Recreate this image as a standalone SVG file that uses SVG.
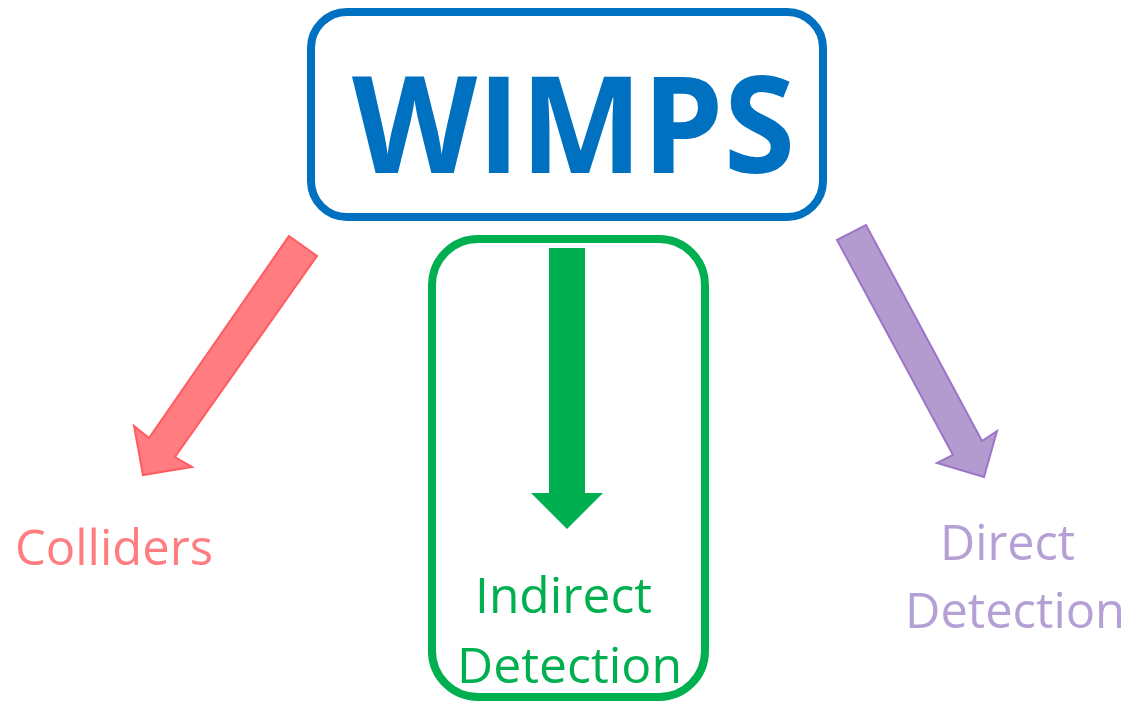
<svg xmlns="http://www.w3.org/2000/svg" width="1130" height="702" viewBox="0 0 1130 702">
<style>
.lbl{font-family:"Open Sans","Liberation Sans",sans-serif;font-size:49px;}
</style>
<rect width="1130" height="702" fill="#ffffff"/>
<g id="wimps">
<rect x="311" y="12" width="512" height="205" rx="36" fill="#ffffff" stroke="#0070C0" stroke-width="8"/>
<text x="352" y="173" textLength="443" lengthAdjust="spacingAndGlyphs" font-family="'Open Sans','Liberation Sans',sans-serif" font-weight="bold" font-size="134" fill="#0070C0">WIMPS</text>
</g>
<g id="indirect">
<rect x="432" y="239" width="273" height="458" rx="46" fill="#ffffff" stroke="#00B050" stroke-width="8"/>
<text class="lbl" x="475" y="613" textLength="177" lengthAdjust="spacingAndGlyphs" fill="#00B050">Indirect</text>
<text class="lbl" x="457" y="683" textLength="225" lengthAdjust="spacingAndGlyphs" fill="#00B050">Detection</text>
</g>
<g id="colliders">
<text class="lbl" x="15" y="565" textLength="198" lengthAdjust="spacingAndGlyphs" fill="#FF7C80">Colliders</text>
</g>
<g id="direct">
<text class="lbl" x="940" y="560" textLength="135" lengthAdjust="spacingAndGlyphs" fill="#B4A0D4">Direct</text>
<text class="lbl" x="905" y="628" textLength="220" lengthAdjust="spacingAndGlyphs" fill="#B4A0D4">Detection</text>
</g>
<g id="connectors">
<polygon points="289,236 317,256 175,457 192,467 143,475 134,426 149,438" fill="#FF7C80" stroke="#FF5B60" stroke-width="2" stroke-linejoin="miter"/>
<polygon points="549,248 585,248 585,493 603,493 567,529 531,493 549,493" fill="#00B050"/>
<polygon points="837,240 866,225 982,441 997,431 984,477 937,463 953,455" fill="#B39BD0" stroke="#9D75C8" stroke-width="2"/>
</g>
</svg>
